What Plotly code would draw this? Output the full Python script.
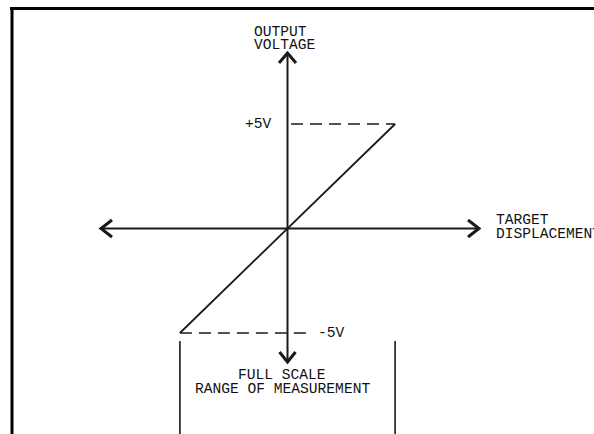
import plotly.graph_objects as go

# ---- data ----
displacement = [-1, 0, 1]          # target displacement (full scale units)
output_voltage = [-5, 0, 5]        # output voltage (V)
full_scale = [-1, 1]               # full scale range of measurement
voltage_limits = [5, -5]           # +5V / -5V levels
voltage_labels = ["+5V", "-5V"]
y_axis_title = ["OUTPUT", "VOLTAGE"]
x_axis_title = ["TARGET", "DISPLACEMENT"]
range_title = ["FULL SCALE", "RANGE OF MEASUREMENT"]

W, H = 594, 434
OX, OY = 287.5, 228.5      # pixel position of origin
SX, SY = 107.6, 20.9       # pixels per unit

def px2x(px):
    return (px - OX) / SX

def py2y(py):
    return (OY - py) / SY

INK = "#1a1a1a"
FONT = dict(family="Liberation Mono, Courier New, monospace", size=14.6, color="#111")
DASH = "12px,7px"

fig = go.Figure()

# axes lines
fig.add_trace(go.Scatter(x=[px2x(101), px2x(479)], y=[0, 0], mode="lines",
                         line=dict(color=INK, width=2), hoverinfo="skip"))
fig.add_trace(go.Scatter(x=[0, 0], y=[py2y(54), py2y(361)], mode="lines",
                         line=dict(color=INK, width=2), hoverinfo="skip"))
# arrowheads (open chevrons)
arrows = [
    [(112, 220), (101, 228.5), (112, 237)],
    [(468, 220), (479, 228.5), (468, 237)],
    [(279, 63), (287.5, 53), (296, 63)],
    [(279.5, 352), (287.5, 362), (295.5, 352)],
]
for a in arrows:
    fig.add_trace(go.Scatter(x=[px2x(p[0]) for p in a], y=[py2y(p[1]) for p in a],
                             mode="lines", line=dict(color=INK, width=3),
                             hoverinfo="skip"))

# transfer characteristic
fig.add_trace(go.Scatter(x=displacement, y=output_voltage, mode="lines",
                         line=dict(color=INK, width=1.8), hoverinfo="skip"))

# dashed voltage levels
fig.add_trace(go.Scatter(x=[px2x(291), full_scale[1]], y=[voltage_limits[0]] * 2,
                         mode="lines", line=dict(color=INK, width=1.6, dash=DASH),
                         hoverinfo="skip"))
fig.add_trace(go.Scatter(x=[full_scale[0], px2x(311)], y=[voltage_limits[1]] * 2,
                         mode="lines", line=dict(color=INK, width=1.6, dash=DASH),
                         hoverinfo="skip"))

# full scale range markers
for xv in full_scale:
    fig.add_trace(go.Scatter(x=[xv, xv], y=[py2y(341), py2y(434)], mode="lines",
                             line=dict(color=INK, width=1.6), hoverinfo="skip"))

ann = []
ann.append(dict(x=px2x(273), y=voltage_limits[0], text=voltage_labels[0],
                xanchor="right", yanchor="middle"))
ann.append(dict(x=px2x(317), y=voltage_limits[1], text=voltage_labels[1],
                xanchor="left", yanchor="middle"))
ann.append(dict(x=px2x(253), y=py2y(32), text=y_axis_title[0], xanchor="left", yanchor="middle"))
ann.append(dict(x=px2x(253), y=py2y(45), text=y_axis_title[1], xanchor="left", yanchor="middle"))
ann.append(dict(x=px2x(495), y=py2y(219.5), text=x_axis_title[0], xanchor="left", yanchor="middle"))
ann.append(dict(x=px2x(495), y=py2y(233.5), text=x_axis_title[1], xanchor="left", yanchor="middle"))
ann.append(dict(x=px2x(282), y=py2y(375), text=range_title[0], xanchor="center", yanchor="middle"))
ann.append(dict(x=px2x(282), y=py2y(389), text=range_title[1], xanchor="center", yanchor="middle"))
for a in ann:
    a.update(xref="x", yref="y", showarrow=False, font=FONT, borderpad=0)

fig.update_layout(
    width=W, height=H,
    margin=dict(l=0, r=0, t=0, b=0),
    paper_bgcolor="white", plot_bgcolor="white",
    showlegend=False,
    xaxis=dict(range=[px2x(0), px2x(W)], visible=False, fixedrange=True),
    yaxis=dict(range=[py2y(H), py2y(0)], visible=False, fixedrange=True),
    annotations=ann,
    shapes=[
        dict(type="line", xref="paper", yref="paper", x0=10 / W, x1=1,
             y0=1 - 8.5 / H, y1=1 - 8.5 / H, line=dict(color="black", width=3)),
        dict(type="line", xref="paper", yref="paper", x0=12 / W, x1=12 / W,
             y0=1 - 7 / H, y1=0, line=dict(color="black", width=3)),
    ],
)

fig.write_html(
    "out.html",
    config={"displayModeBar": False},
    post_script="document.body.style.margin='0';document.body.style.overflow='hidden';",
)
